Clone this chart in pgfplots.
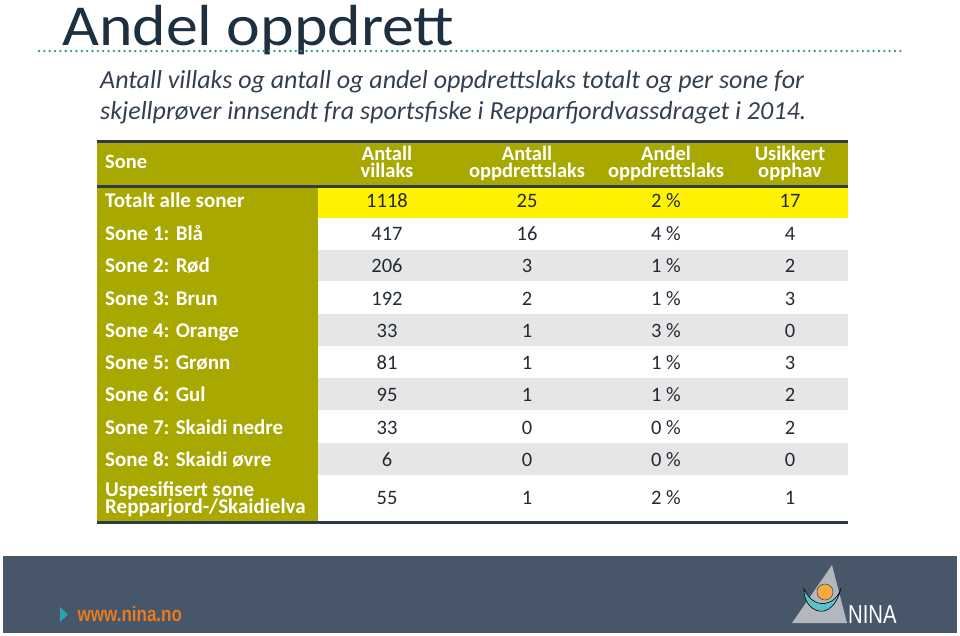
\documentclass[border=0pt]{standalone}
\usepackage{pgfplots}
\pgfplotsset{compat=1.18}
\usepackage{pgfplotstable}
\usepackage{fontspec}
\setmainfont{Carlito}
\newfontfamily\titlefont[FakeStretch=1.1]{Carlito}
\newfontfamily\narrowfont[FakeStretch=0.81]{Liberation Sans}
\newfontfamily\ninafont[FakeStretch=0.78]{Liberation Sans}
\definecolor{olivec}{HTML}{A8A800}
\definecolor{rowgray}{HTML}{E6E6E6}
\definecolor{tline}{HTML}{2E3B4A}
\definecolor{titlec}{HTML}{1E2F40}
\definecolor{subc}{HTML}{333F4F}
\definecolor{dotc}{HTML}{1F9A96}
\definecolor{footc}{HTML}{475669}
\definecolor{orangec}{HTML}{E87B1E}
\definecolor{arrowc}{HTML}{2AA3B5}
\definecolor{logogray}{HTML}{B4B8BE}
\definecolor{logoteal}{HTML}{5BC2C9}
\definecolor{logoorange}{HTML}{F6A93F}
\definecolor{valc}{HTML}{222A35}

% y = baseline of the row text (pixels from top)
\pgfplotstableread[col sep=comma]{
y,v,o,a,u
207.7,1118,25,2,17
240.5,417,16,4,4
272.7,206,3,1,2
305,192,2,1,3
337.2,33,1,3,0
369.5,81,1,1,3
401.7,95,1,1,2
434,33,0,0,2
466.2,6,0,0,0
504.5,55,1,2,1
}\tabdata

\pgfplotstableread[col sep=comma]{
y,name
207.7,Totalt alle soner
240.5,Sone 1: Blå
272.7,Sone 2: Rød
305,Sone 3: Brun
337.2,Sone 4: Orange
369.5,Sone 5: Grønn
401.7,Sone 6: Gul
434,Sone 7: Skaidi nedre
466.2,Sone 8: Skaidi øvre
}\labdata

\begin{document}
\begin{tikzpicture}
\path[use as bounding box] (0,0) rectangle (960pt,635pt);
\begin{axis}[
  at={(0,0)}, anchor=south west,
  width=960pt, height=635pt, scale only axis,
  xmin=0, xmax=960, ymin=0, ymax=635, y dir=reverse,
  hide axis, clip=false,
]
% title
\node[anchor=base west, inner sep=0pt, text=titlec, font=\titlefont\fontsize{58}{58}\selectfont] at (axis cs:62,45) {Andel oppdrett};
\draw[dotc, line width=2.6pt, line cap=round, dash pattern=on 0pt off 5.35pt] (axis cs:39,51) -- (axis cs:903,51);
% subtitle
\node[anchor=base west, inner sep=0pt, text=subc, font=\fontsize{26}{26}\selectfont\itshape] at (axis cs:100,88.7) {Antall villaks og antall og andel oppdrettslaks totalt og per sone for};
\node[anchor=base west, inner sep=0pt, text=subc, font=\fontsize{26}{26}\selectfont\itshape] at (axis cs:100,119) {skjellprøver innsendt fra sportsfiske i Repparfjordvassdraget i 2014.};
% table backgrounds
\fill[olivec] (axis cs:97,141) rectangle (axis cs:848,186);
\fill[olivec] (axis cs:97,186) rectangle (axis cs:318,522);
\fill[yellow] (axis cs:318,186) rectangle (axis cs:848,218);
\fill[rowgray] (axis cs:318,250) rectangle (axis cs:848,281);
\fill[rowgray] (axis cs:318,314) rectangle (axis cs:848,346);
\fill[rowgray] (axis cs:318,378) rectangle (axis cs:848,410);
\fill[rowgray] (axis cs:318,443) rectangle (axis cs:848,475);
\draw[tline, line width=3pt] (axis cs:97,141) -- (axis cs:848,141);
\draw[tline, line width=3pt] (axis cs:97,186) -- (axis cs:848,186);
\draw[tline, line width=3pt] (axis cs:97,522) -- (axis cs:848,522);
% header
\tikzset{hd/.style={anchor=base, inner sep=0pt, text=white, font=\fontsize{20.5}{20.5}\selectfont\bfseries}}
\node[hd, anchor=base west] at (axis cs:105,168) {Sone};
\node[hd] at (axis cs:387,160.5) {Antall};
\node[hd] at (axis cs:387,177) {villaks};
\node[hd] at (axis cs:527,160.5) {Antall};
\node[hd] at (axis cs:527,177) {oppdrettslaks};
\node[hd] at (axis cs:666,160.5) {Andel};
\node[hd] at (axis cs:666,177) {oppdrettslaks};
\node[hd] at (axis cs:790,160.5) {Usikkert};
\node[hd] at (axis cs:790,177) {opphav};
% row labels
\addplot[only marks, mark=none, point meta=explicit symbolic, nodes near coords,
  nodes near coords style={anchor=base west, inner sep=0pt, text=white, font=\fontsize{21}{21}\selectfont\bfseries}]
  table[x expr=105, y=y, meta=name] {\labdata};
\node[hd, anchor=base west, font=\fontsize{21}{21}\selectfont\bfseries] at (axis cs:105,496) {Uspesifisert sone};
\node[hd, anchor=base west, font=\fontsize{21}{21}\selectfont\bfseries] at (axis cs:105,513) {Repparjord-/Skaidielva};
% values
\tikzset{vl/.style={anchor=base, inner sep=0pt, text=valc, font=\fontsize{20.5}{20.5}\selectfont}}
\addplot[only marks, mark=none, point meta=explicit symbolic, nodes near coords,
  nodes near coords style={vl}]
  table[x expr=387, y=y, meta=v] {\tabdata};
\addplot[only marks, mark=none, point meta=explicit symbolic, nodes near coords,
  nodes near coords style={vl}]
  table[x expr=527, y=y, meta=o] {\tabdata};
\addplot[only marks, mark=none, point meta=explicit symbolic, nodes near coords={\pgfplotspointmeta\ \%},
  nodes near coords style={vl}]
  table[x expr=666, y=y, meta=a] {\tabdata};
\addplot[only marks, mark=none, point meta=explicit symbolic, nodes near coords,
  nodes near coords style={vl}]
  table[x expr=790, y=y, meta=u] {\tabdata};
% footer
\fill[footc] (axis cs:3,556) rectangle (axis cs:957,633);
\fill[arrowc] (axis cs:60,607) -- (axis cs:68,614.5) -- (axis cs:60,622) -- cycle;
\node[anchor=base west, inner sep=0pt, text=orangec, font=\narrowfont\fontsize{21}{21}\selectfont\bfseries] at (axis cs:77.5,621) {www.nina.no};
\fill[logogray] (axis cs:792,623) -- (axis cs:832,565) -- (axis cs:847,623) -- cycle;
\draw[black, line width=0.6pt, fill=logoteal] (axis cs:804,589) .. controls (axis cs:803,612) and (axis cs:832,625) .. (axis cs:841,588) .. controls (axis cs:836,606) and (axis cs:814,611) .. cycle;
\draw[black!70, line width=0.6pt, fill=logoorange] (axis cs:825,592) circle[radius=8pt];
\node[anchor=base west, inner sep=0pt, text=white, font=\ninafont\fontsize{26}{26}\selectfont] at (axis cs:848,623) {NINA};
\end{axis}
\end{tikzpicture}
\end{document}
